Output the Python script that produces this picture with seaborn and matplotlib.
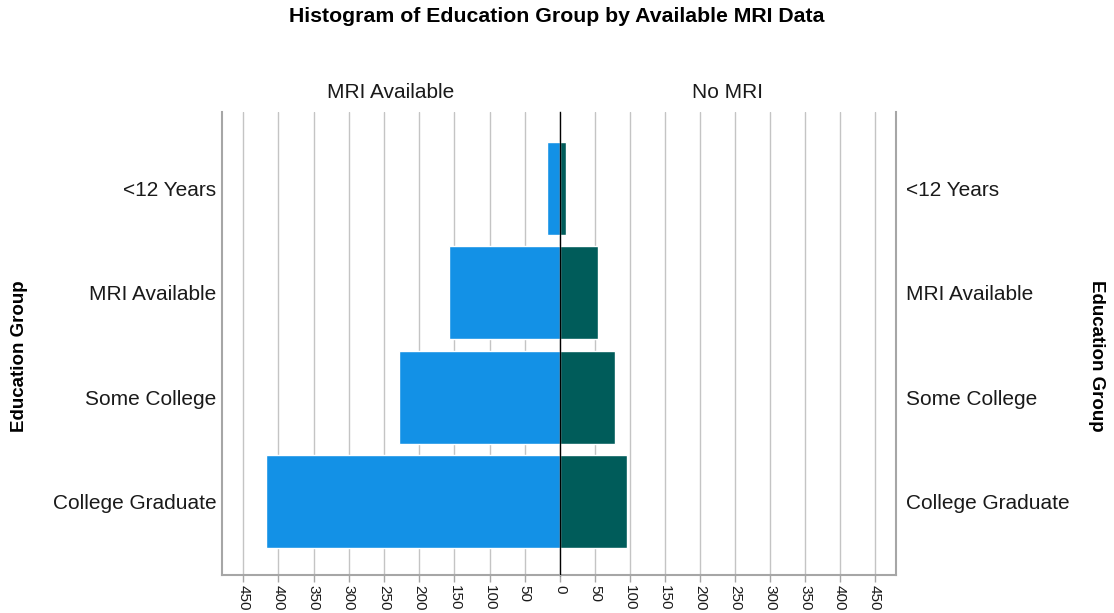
import pandas as pd
import matplotlib
matplotlib.use("Agg")
import matplotlib.pyplot as plt
import seaborn as sns

# values
education = ["<12 Years", "MRI Available", "Some College", "College Graduate"]
mri_available = [19, 158, 228, 418]
no_mri = [8, 54, 79, 96]
ticks = [0, 50, 100, 150, 200, 250, 300, 350, 400, 450]

sns.set_theme(style="white")
plt.rcParams["font.family"] = ["Liberation Sans", "DejaVu Sans"]

df = pd.DataFrame({
    "education": education * 2,
    "group": ["MRI Available"] * 4 + ["No MRI"] * 4,
    "count": mri_available + no_mri,
})

blue = "#1391E6"
teal = "#005C5A"
grid_c = "#c4c4c4"
spine_c = "#a6a6a6"
text_c = "#1a1a1a"

fig = plt.figure(figsize=(11.14, 6.13), dpi=100)
ax_l = fig.add_axes([222 / 1114, 1 - 575 / 613, 338 / 1114, 463 / 613])
ax_r = fig.add_axes([560 / 1114, 1 - 575 / 613, 336 / 1114, 463 / 613])

sns.barplot(data=df[df["group"] == "MRI Available"], x="count", y="education",
            order=education, color=blue, width=0.89, saturation=1, ax=ax_l)
sns.barplot(data=df[df["group"] == "No MRI"], x="count", y="education",
            order=education, color=teal, width=0.89, saturation=1, ax=ax_r)

lim = 480
ax_l.set_xlim(lim, 0)
ax_r.set_xlim(0, lim)

for ax in (ax_l, ax_r):
    ax.set_ylim(3.70, -0.73)
    ax.set_xlabel("")
    ax.set_ylabel("")
    ax.set_axisbelow(True)
    ax.grid(axis="x", color=grid_c, linewidth=1)
    ax.grid(axis="y", visible=False)
    ax.spines["top"].set_visible(False)
    ax.spines["bottom"].set_color(spine_c)
    ax.spines["bottom"].set_linewidth(1.5)
    ax.tick_params(axis="x", bottom=True, length=5, width=1, color=spine_c,
                   labelsize=11, labelrotation=-90, pad=2, labelcolor=text_c)
    ax.tick_params(axis="y", length=0, labelsize=15, labelcolor=text_c)

ax_l.set_xticks(ticks)
ax_r.set_xticks(ticks[1:])
ax_l.spines["left"].set_color(spine_c)
ax_l.spines["left"].set_linewidth(1.5)
ax_l.spines["right"].set_color("black")
ax_l.spines["right"].set_linewidth(1)
ax_l.tick_params(axis="y", pad=4)

ax_r.spines["left"].set_visible(False)
ax_r.spines["right"].set_color(spine_c)
ax_r.spines["right"].set_linewidth(1.5)
ax_r.yaxis.tick_right()
ax_r.tick_params(axis="y", length=0, pad=7)
ax_r.axvline(0, color="black", linewidth=1, zorder=5)

fig.text(391 / 1114, 1 - 93 / 613, "MRI Available", ha="center", va="center",
         fontsize=15, color=text_c)
fig.text(728 / 1114, 1 - 93 / 613, "No MRI", ha="center", va="center",
         fontsize=15, color=text_c)
fig.text(0.5, 1 - 16 / 613, "Histogram of Education Group by Available MRI Data",
         ha="center", va="center", fontsize=15.3, fontweight="bold", color="black")
fig.text(20 / 1114, 1 - 356 / 613, "Education Group", ha="center", va="center",
         rotation=90, fontsize=13.5, fontweight="bold", color="black")
fig.text(1097 / 1114, 1 - 356 / 613, "Education Group", ha="center", va="center",
         rotation=-90, fontsize=13.5, fontweight="bold", color="black")

fig.savefig("out.png", dpi=100)
